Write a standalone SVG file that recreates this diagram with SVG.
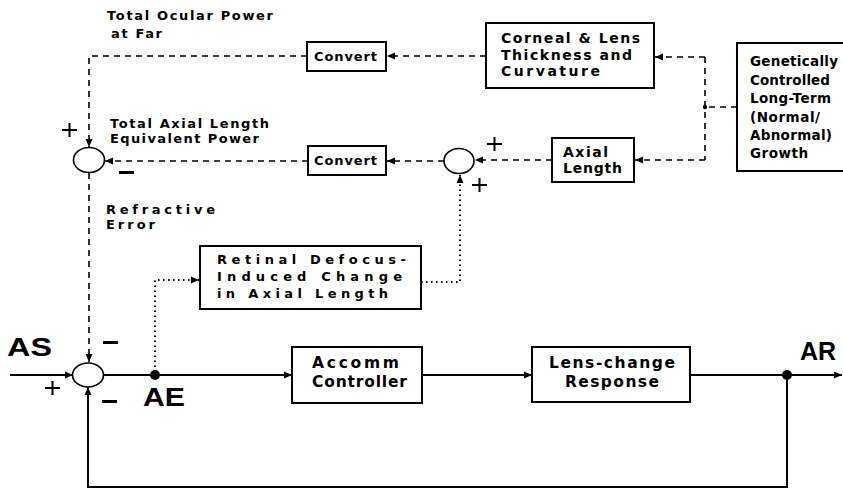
<svg xmlns="http://www.w3.org/2000/svg" width="843" height="491" viewBox="0 0 843 491">
<style>
.bx{fill:#fff;stroke:#000;stroke-width:2}
.sj{fill:#fff;stroke:#000;stroke-width:1.6}
.t{font-family:"DejaVu Sans",Verdana,sans-serif;font-weight:bold;fill:#000}
.big{font-family:"Liberation Sans",Arial,sans-serif;font-weight:bold;fill:#000}
.s{font-size:13px}
.c{font-size:13px}
.m{font-size:14px}
.g{font-size:13.5px}
.l{font-size:15.5px}
.b{font-size:25px}
.ln{fill:none;stroke:#000;stroke-width:2}
.da{fill:none;stroke:#000;stroke-width:1.6;stroke-dasharray:6 5}
.do{fill:none;stroke:#000;stroke-width:2;stroke-dasharray:1.5 3.5}
.pl{fill:none;stroke:#000;stroke-width:2}
</style>
<defs>
<marker id="a" markerUnits="userSpaceOnUse" markerWidth="10" markerHeight="10" refX="9" refY="5" orient="auto">
<path d="M1,1.5 L9,5 L1,8.5 Z" fill="#000"/>
</marker>
</defs>
<rect width="843" height="491" fill="#fff"/>
<g id="connectors">
<path class="da" d="M737,107 H705"/>
<path class="da" d="M705,57 V160"/>
<circle cx="705" cy="107" r="2.2" fill="#000"/>
<path class="da" d="M705,57 H655" marker-end="url(#a)"/>
<path class="da" d="M705,160 H635" marker-end="url(#a)"/>
<path class="da" d="M486,56 H387" marker-end="url(#a)"/>
<path class="da" d="M307,56 H89 V147" marker-end="url(#a)"/>
<path class="da" d="M552,160 H475" marker-end="url(#a)"/>
<path class="da" d="M444,161 H387" marker-end="url(#a)"/>
<path class="da" d="M308,161 H105" marker-end="url(#a)"/>
<path class="da" d="M89,173 V362" marker-end="url(#a)"/>
<path class="ln" d="M10,375 H73" marker-end="url(#a)"/>
<path class="ln" d="M104,375 H292" marker-end="url(#a)"/>
<path class="ln" d="M422,375 H532" marker-end="url(#a)"/>
<path class="ln" d="M690,375 H842" marker-end="url(#a)"/>
<path class="ln" d="M787,375 V487 H88 V387" marker-end="url(#a)"/>
<circle cx="787" cy="375" r="5" fill="#000"/>
<path class="do" d="M155,372 V280 H199" marker-end="url(#a)"/>
<circle cx="155" cy="375" r="5" fill="#000"/>
<path class="do" d="M421,282 H460 V175" marker-end="url(#a)"/>
</g>
<g id="sum1"><ellipse class="sj" cx="89" cy="160" rx="15.5" ry="12.5"/></g>
<g id="sum2"><ellipse class="sj" cx="459" cy="161" rx="15" ry="12.5"/></g>
<g id="sum0"><ellipse class="sj" cx="88" cy="375" rx="15.5" ry="12"/></g>
<g id="convert1">
<rect class="bx" x="307" y="42" width="79" height="29"/>
<text class="t c" x="314" y="61" textLength="63" lengthAdjust="spacing">Convert</text>
</g>
<g id="convert2">
<rect class="bx" x="308" y="146" width="78" height="29"/>
<text class="t c" x="314" y="165" textLength="63" lengthAdjust="spacing">Convert</text>
</g>
<g id="corneal">
<rect class="bx" x="486" y="23" width="168" height="65"/>
<text class="t m" x="501" y="43" textLength="139" lengthAdjust="spacing">Corneal &amp; Lens</text>
<text class="t m" x="501" y="60" textLength="131" lengthAdjust="spacing">Thickness and</text>
<text class="t m" x="501" y="76" textLength="99" lengthAdjust="spacing">Curvature</text>
</g>
<g id="axial">
<rect class="bx" x="552" y="138" width="82" height="44"/>
<text class="t m" x="563" y="157" textLength="45" lengthAdjust="spacing">Axial</text>
<text class="t m" x="563" y="173" textLength="59" lengthAdjust="spacing">Length</text>
</g>
<g id="genetic">
<rect class="bx" x="737" y="43" width="108" height="128"/>
<text class="t g" x="750" y="66" textLength="88" lengthAdjust="spacing">Genetically</text>
<text class="t g" x="750" y="85" textLength="80" lengthAdjust="spacing">Controlled</text>
<text class="t g" x="750" y="103" textLength="81" lengthAdjust="spacing">Long-Term</text>
<text class="t g" x="750" y="122" textLength="70" lengthAdjust="spacing">(Normal/</text>
<text class="t g" x="750" y="140" textLength="82" lengthAdjust="spacing">Abnormal)</text>
<text class="t g" x="750" y="158" textLength="58" lengthAdjust="spacing">Growth</text>
</g>
<g id="retinal">
<rect class="bx" x="200" y="246" width="221" height="63"/>
<text class="t s" x="217" y="264" textLength="189" lengthAdjust="spacing">Retinal Defocus-</text>
<text class="t s" x="217" y="281" textLength="185" lengthAdjust="spacing">Induced Change</text>
<text class="t s" x="217" y="298" textLength="171" lengthAdjust="spacing">in Axial Length</text>
</g>
<g id="accomm">
<rect class="bx" x="292" y="347" width="130" height="56"/>
<text class="t l" x="312" y="368" textLength="87" lengthAdjust="spacing">Accomm</text>
<text class="t l" x="312" y="387" textLength="95" lengthAdjust="spacing">Controller</text>
</g>
<g id="lens">
<rect class="bx" x="532" y="347" width="158" height="55"/>
<text class="t l" x="549" y="368" textLength="126" lengthAdjust="spacing">Lens-change</text>
<text class="t l" x="565" y="387" textLength="94" lengthAdjust="spacing">Response</text>
</g>
<g id="labels">
<text class="t s" x="107" y="20" textLength="166" lengthAdjust="spacing">Total Ocular Power</text>
<text class="t s" x="111" y="38" textLength="51" lengthAdjust="spacing">at Far</text>
<text class="t s" x="110" y="128" textLength="159" lengthAdjust="spacing">Total Axial Length</text>
<text class="t s" x="110" y="143" textLength="149" lengthAdjust="spacing">Equivalent Power</text>
<text class="t s" x="106" y="214" textLength="109" lengthAdjust="spacing">Refractive</text>
<text class="t s" x="106" y="229" textLength="49" lengthAdjust="spacing">Error</text>
<text class="big b" x="7" y="356" textLength="45" lengthAdjust="spacingAndGlyphs">AS</text>
<text class="big b" x="143" y="406" textLength="42" lengthAdjust="spacingAndGlyphs">AE</text>
<text class="big b" x="800" y="360" font-size="26">AR</text>
<path class="pl" d="M62,130 H77 M69.5,123 V137"/>
<path class="pl" d="M487,144 H502 M494.5,137 V151"/>
<path class="pl" d="M472,185 H487 M479.5,178 V192"/>
<path class="pl" d="M45,388 H60 M52.5,381 V395"/>
<rect x="119" y="171" width="15" height="3" fill="#000"/>
<rect x="103" y="341" width="15" height="3" fill="#000"/>
<rect x="102" y="400" width="15" height="3" fill="#000"/>
</g>
</svg>
